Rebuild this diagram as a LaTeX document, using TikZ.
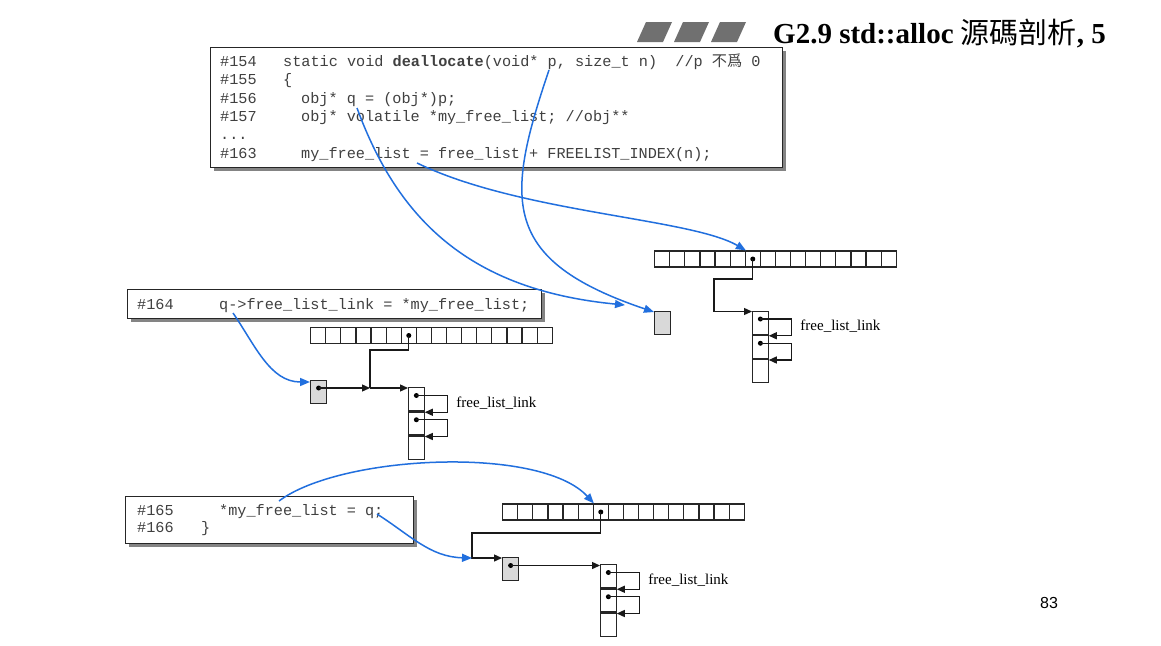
\documentclass[tikz,border=0pt]{standalone}
\usepackage{fontspec}
\setmainfont{Liberation Serif}
\setmonofont{Liberation Mono}
\setsansfont{Liberation Sans}
\newfontfamily\cjk{Noto Sans CJK TC}
\usetikzlibrary{arrows.meta,shadows}
\definecolor{linkblue}{RGB}{33,111,222}
\definecolor{tilegray}{RGB}{112,112,112}
\tikzset{
  codebox/.style={draw=black!85, line width=1.2pt, fill=white, inner sep=0pt, anchor=north west,
    drop shadow={shadow xshift=3pt, shadow yshift=-3pt, fill=black!60, opacity=0.8}},
  code/.style={font=\ttfamily\fontsize{15.2}{18}\selectfont, text=black!75, inner sep=0pt, anchor=base west},
  cell/.style={draw=black!85, line width=1.25pt, minimum width=15.1pt, minimum height=16pt, inner sep=0pt, anchor=west},
  lcell/.style={draw=black!85, line width=1.25pt, minimum width=15.5pt, minimum height=23pt, inner sep=0pt},
  gbox/.style={draw=black!85, line width=1.25pt, fill=black!15, minimum width=16pt, minimum height=23pt, inner sep=0pt, anchor=north west},
  dotn/.style={circle, fill=black, inner sep=0pt, minimum size=5pt},
  blk/.style={line width=1.3pt, black!90},
  blkarr/.style={blk, -{Triangle[length=8pt,width=7pt]}},
  bluearr/.style={line width=1.5pt, draw=linkblue, -{Triangle[length=10pt,width=8pt]}},
  lbl/.style={font=\fontsize{15}{18}\selectfont, inner sep=0pt, anchor=west},
}
\newcommand\flist[3]{%
  \node[lcell, anchor=north west] (#1a) at (#2,#3) {};
  \node[lcell, anchor=north] (#1b) at (#1a.south) {};
  \node[lcell, anchor=north] (#1c) at (#1b.south) {};
  \node[dotn] (#1p) at ([yshift=-8.5pt]#1a.north) {};
  \node[dotn] (#1q) at ([yshift=-8.5pt]#1b.north) {};
  \draw[blkarr] (#1p.center) -- ++(31,0) |- ([yshift=-1pt]#1b.north east);
  \draw[blkarr] (#1q.center) -- ++(31,0) |- ([yshift=-1pt]#1c.north east);
  \node[lbl] (#1t) at ([xshift=31.5pt,yshift=-16pt]#1a.north east) {free\_list\_link};
}
\begin{document}
\begin{tikzpicture}[x=1pt,y=-1pt]
\useasboundingbox (0,0) rectangle (1161,645);
\fill[white] (0,0) rectangle (1161,645);

% title
\foreach \k in {0,1,2}
  \fill[tilegray] ({637+37*\k},42) -- ({663+37*\k},42) -- ({672+37*\k},22) -- ({646+37*\k},22) -- cycle;
\node[anchor=base west, inner sep=0pt, font=\bfseries\fontsize{29}{34}\selectfont] (title) at (773,43) {G2.9 std::alloc {\cjk\mdseries 源碼剖析}, 5};
\node[font=\sffamily\fontsize{16}{18}\selectfont, inner sep=0pt] (pg) at (1049,603) {83};

% code boxes
\node[codebox, minimum width=572pt, minimum height=120pt] (box1) at (210,47) {};
\node[codebox, minimum width=414pt, minimum height=29pt] (box2) at (127,289) {};
\node[codebox, minimum width=288pt, minimum height=47pt] (box3) at (125,496) {};

\node[code] (n154) at (220,66) {\#154};
\node[code] (c154) at (283,66) {static void \textbf{deallocate}(void* p, size\_t n)\ \ //p {\cjk 不爲} 0};
\node[code] (n155) at (220,84.5) {\#155};
\node[code] (c155) at (283,84.5) {\{};
\node[code] (n156) at (220,103) {\#156};
\node[code] (c156) at (301,103) {obj* q = (obj*)p;};
\node[code] (n157) at (220,121) {\#157};
\node[code] (c157) at (301,121) {obj* volatile *my\_free\_list; //obj**};
\node[code] (ell) at (220,139.5) {...};
\node[code] (n163) at (220,158) {\#163};
\node[code] (c163) at (301,158) {my\_free\_list = free\_list + FREELIST\_INDEX(n);};

\node[code] (n164) at (137,309) {\#164};
\node[code] (c164) at (219,309) {q->free\_list\_link = *my\_free\_list;};

\node[code] (n165) at (137,515) {\#165};
\node[code] (c165) at (219,515) {*my\_free\_list = q;};
\node[code] (n166) at (137,532) {\#166};
\node[code] (c166) at (201,532) {\}};

% arrays
\foreach \i in {0,...,15} {
  \node[cell] (A\i) at ({654+\i*15.1},259) {};
  \node[cell] (B\i) at ({310+\i*15.1},335.5) {};
  \node[cell] (C\i) at ({502+\i*15.1},512) {};
}
\node[dotn] (Ad) at (A6.center) {};
\node[dotn] (Bd) at (B6.center) {};
\node[dotn] (Cd) at (C6.center) {};

% free lists
\flist{L1}{752}{310.5}
\flist{L2}{408}{387}
\flist{L3}{600}{564}

% gray boxes
\node[gbox] (G1) at (654,311) {};
\node[gbox] (G2) at (310,380) {};
\node[gbox] (G3) at (502,557) {};
\node[dotn] (G2d) at ([yshift=-8pt]G2.north) {};
\node[dotn] (G3d) at ([yshift=-8.5pt]G3.north) {};

% black connectors
\coordinate (Ak1) at (714,279);
\draw[blkarr] (Ad.center) |- (Ak1) |- ([yshift=-1pt]L1a.north west);

\coordinate (Bk1) at (370,350);
\coordinate (Mj) at (370,388);
\draw[blk] (Bd.center) |- (Bk1) -- (Mj);
\draw[blkarr] (G2d.center) -- (Mj);
\draw[blkarr] (Mj) -- (Mj -| L2a.west);

\coordinate (Ck1) at (472,533);
\coordinate (Ccorner) at (472,558);
\draw[blkarr] (Cd.center) |- (Ck1) |- ([yshift=-1pt]G3.north west);
\draw[blkarr] (G3d.center) -- (G3d -| L3a.west);

% blue connectors
\coordinate (pQ) at (357,108);
\coordinate (pP) at (549,70);
\coordinate (pML) at (417,163);
\coordinate (qEnd) at (625,305);
\coordinate (pQ2) at (233,313);
\coordinate (pMF) at (279,501);
\coordinate (pQ3) at (377,514);

\draw[bluearr] (pQ) .. controls (398,220) and (470,290) .. (qEnd);
\draw[bluearr] (pP) .. controls (505,200) and (500,260) .. ([yshift=-1pt]G1.north west);
\draw[bluearr] (pML) .. controls (520,213) and (690,218) .. (A5.north east);
\draw[bluearr] (pQ2) .. controls (255,345) and (270,382) .. ([yshift=-2pt]G2.north west);
\draw[bluearr] (pMF) .. controls (340,455) and (540,445) .. (C5.north east);
\draw[bluearr] (pQ3) .. controls (410,535) and (430,557) .. (Ccorner);
\end{tikzpicture}
\end{document}
